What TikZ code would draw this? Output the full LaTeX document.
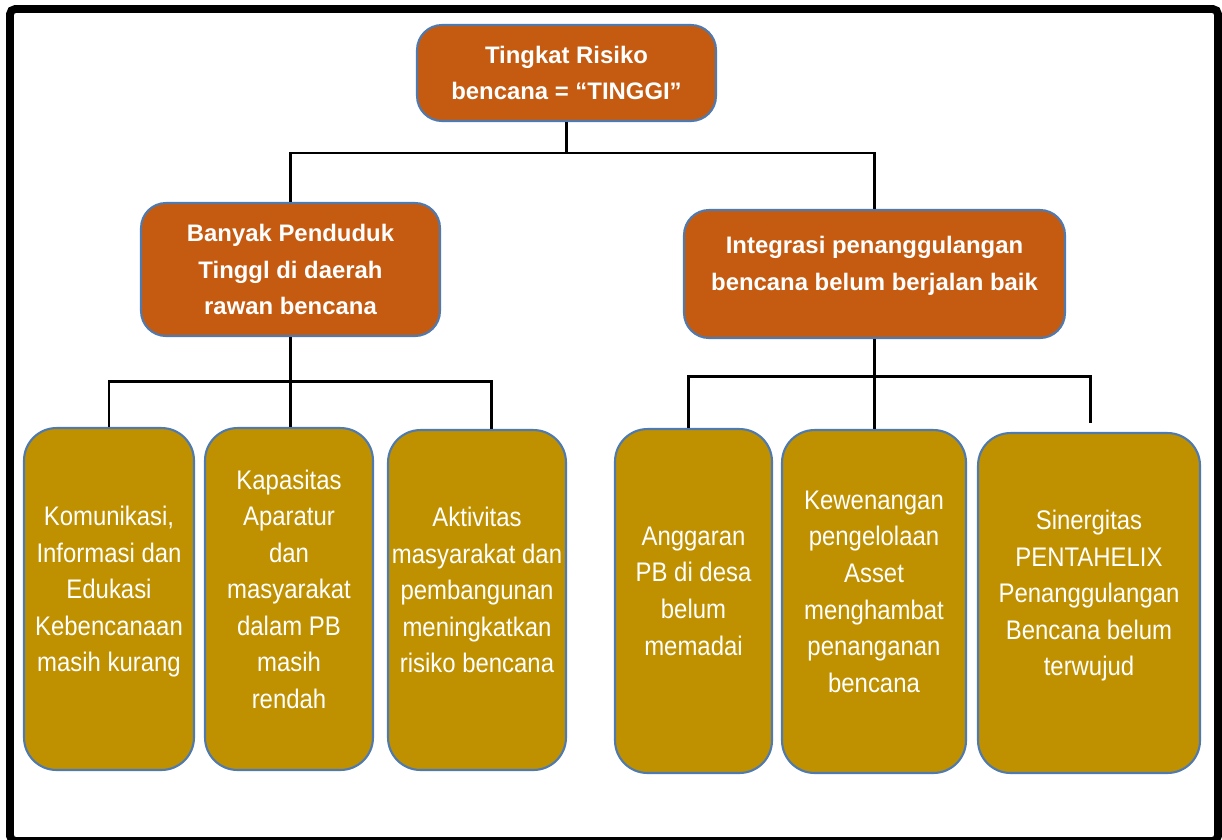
\documentclass[tikz,border=0pt]{standalone}
\usepackage{fontspec}
\setmainfont{Liberation Sans}
\newfontfamily\causefont[FakeStretch=0.89]{Liberation Sans}
\definecolor{riskorange}{RGB}{197,90,17}
\definecolor{riskgold}{RGB}{191,144,0}
\definecolor{riskedge}{RGB}{79,122,176}
\tikzset{
  headbox/.style={draw=riskedge, line width=1.2pt, fill=riskorange, text=white,
    rounded corners=0.5cm, align=center, inner sep=0pt,
    font=\fontsize{13.6}{20.8}\selectfont\bfseries},
  causebox/.style={draw=riskedge, line width=1.2pt, fill=riskgold, text=white,
    rounded corners=0.65cm, align=center, inner sep=0pt,
    font=\causefont\fontsize{15.3}{20.8}\selectfont},
  link/.style={line width=1.7pt}
}

\begin{document}
\begin{tikzpicture}[x=0.02cm, y=-0.02cm]
        \useasboundingbox (0, 0) rectangle (1222, 839);
        \draw[line width=4.5pt, rounded corners=3pt] (10, 9) rectangle (1218, 841);
        \node[headbox, minimum width=5.98cm, minimum height=1.92cm] (risk) at (566.5, 73) {Tingkat Risiko\\bencana = “TINGGI”};
        \node[headbox, minimum width=5.98cm, minimum height=2.66cm] (pend) at (290.5, 269.5) {Banyak Penduduk\\Tinggl di daerah\\rawan bencana};
        \node[headbox, minimum width=7.62cm, minimum height=2.56cm] (integ) at (874.5, 274) {Integrasi penanggulangan\\bencana belum berjalan baik\\[-0.3cm]};
        \node[causebox, minimum width=3.4cm, minimum height=6.84cm] (kom) at (109, 599) {Komunikasi,\\Informasi dan\\Edukasi\\Kebencanaan\\masih kurang\\[-0.33cm]};
        \node[causebox, minimum width=3.36cm, minimum height=6.84cm] (kap) at (289, 599) {Kapasitas\\Aparatur\\dan\\masyarakat\\dalam PB\\masih\\rendah\\[-0.33cm]};
        \node[causebox, minimum width=3.56cm, minimum height=6.8cm] (akt) at (477, 600) {Aktivitas\\masyarakat dan\\pembangunan\\meningkatkan\\risiko bencana\\[-0.33cm]};
        \node[causebox, minimum width=3.14cm, minimum height=6.88cm] (angg) at (693.5, 601) {Anggaran\\PB di desa\\belum\\memadai\\[-0.33cm]};
        \node[causebox, minimum width=3.68cm, minimum height=6.86cm] (kew) at (874, 601.5) {Kewenangan\\pengelolaan\\Asset\\menghambat\\penanganan\\bencana\\[-0.33cm]};
        \node[causebox, minimum width=4.44cm, minimum height=6.8cm] (sin) at (1089, 603) {Sinergitas\\PENTAHELIX\\Penanggulangan\\Bencana belum\\terwujud\\[-0.33cm]};
        \coordinate (j0) at (566.5, 153);
        \coordinate (j1) at (290.5, 381);
        \coordinate (j2) at (874.5, 376);
        \coordinate (sinend) at (1090, 423);
        \draw[link] (risk) -- (j0);
        \draw[link] (j0) -| (pend.north);
        \draw[link] (j0) -| (integ.north);
        \draw[link] (pend) -- (j1);
        \draw[link] (j1) -| (kom.north);
        \draw[link] (j1) -- (j1 |- kap.north);
        \draw[link] (j1) -| ([xshift=0.28cm]akt.north);
        \draw[link] (integ) -- (j2);
        \draw[link] (j2) -| ([xshift=-0.11cm]angg.north);
        \draw[link] (j2) -- (j2 |- kew.north);
        \draw[link] (j2) -| (sinend);
\end{tikzpicture}
\end{document}
